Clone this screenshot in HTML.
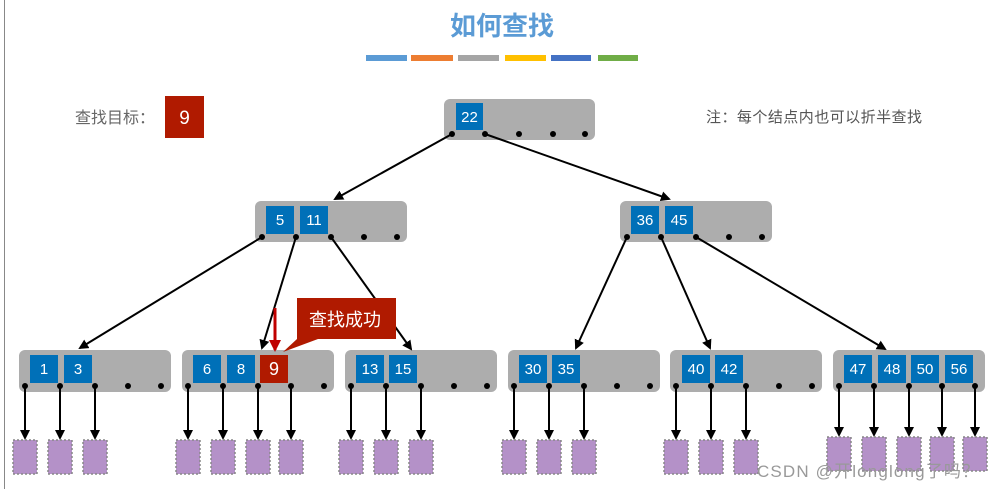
<!DOCTYPE html>
<html><head><meta charset="utf-8"><style>
html,body{margin:0;padding:0;background:#fff;}
svg{display:block;}
text{font-family:"Liberation Sans","Noto Sans CJK SC",sans-serif;}
</style></head><body>
<svg width="993" height="489" viewBox="0 0 993 489" xmlns="http://www.w3.org/2000/svg">
<defs>
<marker id="ah" markerWidth="10" markerHeight="10" refX="8" refY="5" orient="auto" markerUnits="userSpaceOnUse">
<path d="M0,0 L10,5 L0,10 Z" fill="#000"/></marker>
<marker id="ahr" markerWidth="12" markerHeight="12" refX="10" refY="6" orient="auto" markerUnits="userSpaceOnUse">
<path d="M0,0 L12,6 L0,12 Z" fill="#c00000"/></marker>
</defs>
<line x1="4.5" y1="0" x2="4.5" y2="489" stroke="#888" stroke-width="1"/>
<text x="502" y="35" text-anchor="middle" font-size="26" font-weight="bold" fill="#5b9bd5">如何查找</text>
<rect x="366" y="55" width="41" height="6" fill="#5b9bd5"/>
<rect x="411" y="55" width="42" height="6" fill="#ed7d31"/>
<rect x="458" y="55" width="41" height="6" fill="#a5a5a5"/>
<rect x="505" y="55" width="41" height="6" fill="#ffc000"/>
<rect x="551" y="55" width="40" height="6" fill="#4472c4"/>
<rect x="598" y="55" width="40" height="6" fill="#70ad47"/>
<text x="75" y="123" font-size="16" fill="#666">查找目标：</text>
<rect x="165" y="96" width="39" height="42" fill="#b01a00"/>
<text x="184.5" y="124" text-anchor="middle" font-size="19" fill="#fff">9</text>
<text x="706" y="122" font-size="15" fill="#555" textLength="216">注：每个结点内也可以折半查找</text>

<rect x="444" y="99" width="151" height="41" rx="6" fill="#adadad"/>
<rect x="456" y="103" width="27" height="27" fill="#0070b8"/>
<text x="469.5" y="122" text-anchor="middle" font-size="15" fill="#fff">22</text>
<rect x="255" y="201" width="152" height="41" rx="6" fill="#adadad"/>
<rect x="620" y="201" width="152" height="41" rx="6" fill="#adadad"/>
<rect x="19" y="350" width="152" height="42" rx="6" fill="#adadad"/>
<rect x="182" y="350" width="152" height="42" rx="6" fill="#adadad"/>
<rect x="345" y="350" width="152" height="42" rx="6" fill="#adadad"/>
<rect x="508" y="350" width="152" height="42" rx="6" fill="#adadad"/>
<rect x="670" y="350" width="152" height="42" rx="6" fill="#adadad"/>
<rect x="833" y="350" width="152" height="42" rx="6" fill="#adadad"/>
<g font-size="15" fill="#fff" text-anchor="middle">
<rect x="266" y="206" width="28" height="28" fill="#0070b8"/><text x="280" y="225">5</text>
<rect x="300" y="206" width="28" height="28" fill="#0070b8"/><text x="314" y="225">11</text>
<rect x="631" y="206" width="28" height="28" fill="#0070b8"/><text x="645" y="225">36</text>
<rect x="665" y="206" width="28" height="28" fill="#0070b8"/><text x="679" y="225">45</text>
<rect x="30" y="355" width="28" height="28" fill="#0070b8"/><text x="44" y="374">1</text>
<rect x="64" y="355" width="28" height="28" fill="#0070b8"/><text x="78" y="374">3</text>
<rect x="193" y="355" width="28" height="28" fill="#0070b8"/><text x="207" y="374">6</text>
<rect x="227" y="355" width="28" height="28" fill="#0070b8"/><text x="241" y="374">8</text>
<rect x="260" y="355" width="28" height="28" fill="#b01a00"/><text x="274" y="375" font-size="18">9</text>
<rect x="356" y="355" width="28" height="28" fill="#0070b8"/><text x="370" y="374">13</text>
<rect x="389" y="355" width="28" height="28" fill="#0070b8"/><text x="403" y="374">15</text>
<rect x="519" y="355" width="28" height="28" fill="#0070b8"/><text x="533" y="374">30</text>
<rect x="552" y="355" width="28" height="28" fill="#0070b8"/><text x="566" y="374">35</text>
<rect x="682" y="355" width="28" height="28" fill="#0070b8"/><text x="696" y="374">40</text>
<rect x="715" y="355" width="28" height="28" fill="#0070b8"/><text x="729" y="374">42</text>
<rect x="844" y="355" width="28" height="28" fill="#0070b8"/><text x="858" y="374">47</text>
<rect x="878" y="355" width="28" height="28" fill="#0070b8"/><text x="892" y="374">48</text>
<rect x="911" y="355" width="28" height="28" fill="#0070b8"/><text x="925" y="374">50</text>
<rect x="945" y="355" width="28" height="28" fill="#0070b8"/><text x="959" y="374">56</text>
</g>

<g fill="#000">
<circle cx="452" cy="134" r="3"/><circle cx="485" cy="134" r="3"/><circle cx="519" cy="134" r="3"/><circle cx="553" cy="134" r="3"/><circle cx="585" cy="134" r="3"/>
<circle cx="262" cy="237" r="3"/><circle cx="296" cy="237" r="3"/><circle cx="331" cy="237" r="3"/><circle cx="364" cy="237" r="3"/><circle cx="397" cy="237" r="3"/>
<circle cx="627" cy="237" r="3"/><circle cx="661" cy="237" r="3"/><circle cx="696" cy="237" r="3"/><circle cx="729" cy="237" r="3"/><circle cx="762" cy="237" r="3"/>
<circle cx="25" cy="386" r="3"/><circle cx="60" cy="386" r="3"/><circle cx="95" cy="386" r="3"/><circle cx="128" cy="386" r="3"/><circle cx="161" cy="386" r="3"/>
<circle cx="188" cy="386" r="3"/><circle cx="223" cy="386" r="3"/><circle cx="258" cy="386" r="3"/><circle cx="291" cy="386" r="3"/><circle cx="324" cy="386" r="3"/>
<circle cx="351" cy="386" r="3"/><circle cx="386" cy="386" r="3"/><circle cx="421" cy="386" r="3"/><circle cx="454" cy="386" r="3"/><circle cx="487" cy="386" r="3"/>
<circle cx="514" cy="386" r="3"/><circle cx="549" cy="386" r="3"/><circle cx="584" cy="386" r="3"/><circle cx="617" cy="386" r="3"/><circle cx="650" cy="386" r="3"/>
<circle cx="676" cy="386" r="3"/><circle cx="711" cy="386" r="3"/><circle cx="746" cy="386" r="3"/><circle cx="779" cy="386" r="3"/><circle cx="812" cy="386" r="3"/>
<circle cx="839" cy="386" r="3"/><circle cx="874" cy="386" r="3"/><circle cx="909" cy="386" r="3"/><circle cx="942" cy="386" r="3"/><circle cx="975" cy="386" r="3"/>
</g>

<g stroke="#000" stroke-width="2" fill="none" marker-end="url(#ah)">
<line x1="452" y1="134" x2="335" y2="199"/>
<line x1="485" y1="134" x2="669" y2="199"/>
<line x1="262" y1="237" x2="80" y2="348"/>
<line x1="296" y1="237" x2="262" y2="348"/>
<line x1="331" y1="237" x2="411" y2="349"/>
<line x1="627" y1="237" x2="576" y2="348"/>
<line x1="661" y1="237" x2="710" y2="348"/>
<line x1="696" y1="237" x2="885" y2="349"/>
<line x1="25" y1="386" x2="25" y2="438"/><line x1="60" y1="386" x2="60" y2="438"/><line x1="95" y1="386" x2="95" y2="438"/>
<line x1="188" y1="386" x2="188" y2="438"/><line x1="223" y1="386" x2="223" y2="438"/><line x1="258" y1="386" x2="258" y2="438"/><line x1="291" y1="386" x2="291" y2="438"/>
<line x1="351" y1="386" x2="351" y2="438"/><line x1="386" y1="386" x2="386" y2="438"/><line x1="421" y1="386" x2="421" y2="438"/>
<line x1="514" y1="386" x2="514" y2="438"/><line x1="549" y1="386" x2="549" y2="438"/><line x1="584" y1="386" x2="584" y2="438"/>
<line x1="676" y1="386" x2="676" y2="438"/><line x1="711" y1="386" x2="711" y2="438"/><line x1="746" y1="386" x2="746" y2="438"/>
<line x1="839" y1="386" x2="839" y2="435"/><line x1="874" y1="386" x2="874" y2="435"/><line x1="909" y1="386" x2="909" y2="435"/><line x1="942" y1="386" x2="942" y2="435"/><line x1="975" y1="386" x2="975" y2="435"/>
</g>

<g fill="#b491c8" stroke="#888" stroke-width="1.5" stroke-dasharray="2,2">
<rect x="13" y="440" width="24" height="34"/><rect x="48" y="440" width="24" height="34"/><rect x="83" y="440" width="24" height="34"/>
<rect x="176" y="440" width="24" height="34"/><rect x="211" y="440" width="24" height="34"/><rect x="246" y="440" width="24" height="34"/><rect x="279" y="440" width="24" height="34"/>
<rect x="339" y="440" width="24" height="34"/><rect x="374" y="440" width="24" height="34"/><rect x="409" y="440" width="24" height="34"/>
<rect x="502" y="440" width="24" height="34"/><rect x="537" y="440" width="24" height="34"/><rect x="572" y="440" width="24" height="34"/>
<rect x="664" y="440" width="24" height="34"/><rect x="699" y="440" width="24" height="34"/><rect x="734" y="440" width="24" height="34"/>
<rect x="827" y="437" width="24" height="34"/><rect x="862" y="437" width="24" height="34"/><rect x="897" y="437" width="24" height="34"/><rect x="930" y="437" width="24" height="34"/><rect x="963" y="437" width="24" height="34"/>
</g>

<path d="M297,298 H396 V339 H318 L283,352 L297,339 Z" fill="#b01a00"/>
<text x="345" y="326" text-anchor="middle" font-size="18" fill="#fff">查找成功</text>
<line x1="275" y1="308" x2="275" y2="350" stroke="#c00000" stroke-width="3" marker-end="url(#ahr)"/>

<text x="757" y="477" font-size="17" fill="#999" textLength="222">CSDN @开longlong了吗？</text>
</svg>
</body></html>
